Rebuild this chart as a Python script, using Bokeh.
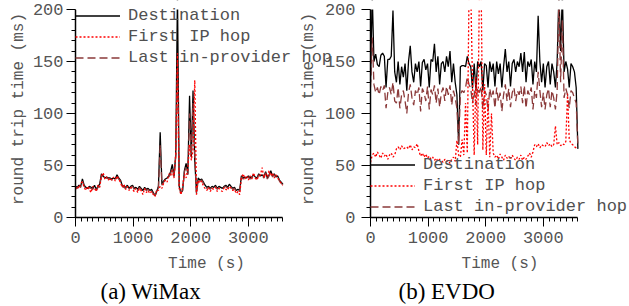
from bokeh.plotting import figure
from bokeh.layouts import row
from bokeh.models import Legend, LegendItem, Title, SingleIntervalTicker, Range1d, BoxAnnotation
from bokeh.embed import file_html
from bokeh.resources import INLINE

# sample times (s)
times = list(range(0, 3601, 30))

# (a) WiMax
wimax_dest = [30, 29, 31, 30, 37, 31, 29, 28, 30, 29, 28, 31, 27, 30, 32,
              42, 40, 38, 39, 38, 38, 37, 38, 37, 41, 38, 36,
              31, 30, 29, 31, 28, 30, 31, 28, 29, 27, 30, 28, 26, 29, 27, 28, 26, 27, 24, 21, 25, 30,
              82, 32, 35, 37, 38, 40, 44, 51, 40, 60, 215, 30, 24, 26, 45, 52, 42, 117, 58, 122, 55, 24,
              38, 36, 37, 34, 31, 29, 30, 28, 30, 29, 31, 28, 30, 29, 28, 30, 31, 29, 32, 30, 28, 29, 26, 27, 26,
              40, 38, 39, 38, 40, 38, 39, 41, 39, 38, 42, 40, 41, 39, 44, 38, 41, 45, 40, 42, 39, 40, 36, 34, 32]
wimax_first = [27, 30, 28, 33, 34, 29, 26, 30, 27, 24, 30, 28, 25, 31, 29,
               40, 43, 37, 39, 36, 38, 36, 39, 35, 40, 37, 34,
               29, 32, 27, 30, 26, 29, 27, 25, 28, 24, 28, 26, 22, 28, 24, 26, 23, 25, 22, 20, 27, 26,
               30, 28, 33, 36, 34, 42, 40, 45, 38, 62, 158, 28, 22, 30, 42, 38, 48, 70, 55, 65, 132, 22,
               36, 33, 35, 30, 28, 26, 29, 25, 28, 27, 29, 25, 28, 26, 25, 29, 27, 26, 30, 28, 26, 27, 23, 25, 22,
               38, 42, 37, 40, 36, 40, 37, 43, 38, 36, 40, 41, 48, 38, 42, 39, 45, 40, 43, 38, 41, 38, 35, 33, 31]
wimax_last = [29, 28, 30, 29, 35, 30, 28, 27, 29, 28, 27, 30, 26, 29, 30,
              40, 39, 37, 38, 37, 37, 36, 37, 36, 39, 37, 35,
              30, 29, 28, 30, 27, 29, 30, 27, 28, 26, 29, 27, 25, 28, 26, 27, 25, 26, 23, 21, 24, 29,
              70, 31, 34, 36, 37, 39, 42, 48, 39, 58, 150, 29, 23, 27, 44, 48, 41, 100, 60, 110, 60, 23,
              37, 35, 36, 33, 30, 28, 29, 27, 29, 28, 30, 27, 29, 28, 27, 29, 30, 28, 31, 29, 27, 28, 25, 26, 25,
              39, 37, 38, 37, 39, 37, 38, 40, 38, 37, 41, 39, 40, 38, 43, 37, 40, 44, 39, 41, 38, 39, 35, 33, 31]

# (b) EVDO
evdo_dest = [130, 215, 150, 157, 147, 145, 156, 158, 155, 125, 152, 152, 155, 199, 140, 130, 150, 128, 145, 135,
             148, 122, 150, 165, 140, 130, 148, 140, 150, 126, 149, 152, 142, 148, 125, 152, 150, 167, 140, 155,
             128, 148, 150, 140, 155, 145, 160, 130, 148, 130, 118, 70, 145, 146, 146, 145, 155, 148, 145, 124,
             148, 122, 150, 145, 150, 122, 148, 146, 125, 150, 140, 148, 126, 150, 138, 148, 125, 145, 162, 140,
             150, 126, 148, 152, 140, 150, 145, 158, 140, 159, 130, 150, 145, 152, 128, 150, 140, 194, 150, 130,
             148, 125, 145, 150, 128, 148, 140, 125, 150, 215, 160, 215, 140, 150, 143, 125, 148, 145, 140, 125, 66]
evdo_first = [53, 60, 62, 58, 63, 60, 57, 62, 59, 61, 56, 60, 62, 58, 60, 66, 68, 65, 69, 66,
              67, 68, 66, 70, 65, 68, 67, 71, 64, 59, 62, 58, 61, 57, 59, 56, 58, 55, 57, 54,
              56, 55, 53, 56, 54, 55, 52, 56, 58, 54, 74, 60, 58, 75, 60, 110, 62, 215, 220, 130,
              60, 135, 70, 220, 225, 65, 128, 60, 115, 58, 100, 62, 58, 60, 56, 61, 58, 55, 60, 57,
              59, 56, 60, 57, 55, 58, 56, 60, 55, 58, 56, 59, 62, 58, 63, 70, 68, 71, 67, 70,
              69, 68, 72, 69, 71, 68, 70, 88, 70, 72, 69, 71, 70, 73, 119, 75, 71, 70, 68, 67, 66]
evdo_last = [125, 173, 128, 120, 125, 118, 126, 122, 127, 105, 120, 125, 118, 130, 112, 110, 125, 105, 118, 122,
             112, 100, 120, 128, 115, 108, 122, 118, 125, 102, 124, 120, 112, 126, 104, 123, 118, 127, 110, 124,
             106, 120, 125, 112, 126, 118, 127, 108, 122, 115, 105, 70, 118, 122, 120, 125, 135, 128, 124, 110,
             122, 108, 125, 120, 126, 104, 122, 118, 102, 124, 115, 122, 105, 125, 112, 120, 102, 118, 128, 112,
             124, 106, 120, 125, 112, 122, 118, 126, 110, 127, 105, 122, 118, 125, 104, 122, 115, 140, 122, 106,
             120, 104, 118, 124, 106, 122, 115, 104, 122, 210, 130, 190, 115, 124, 118, 105, 122, 120, 115, 110, 68]

series_names = ["Destination", "First IP hop", "Last in-provider hop"]
x_label = "Time (s)"
y_label = "round trip time (ms)"
X_MAX = 3600
Y_MAX = 200

MONO = "Liberation Mono"
GRAY = "#555555"

PX_PER_S = 207.4 / 3600.0   # horizontal scale of the reference
PX_PER_MS = 208.0 / 200.0   # vertical scale of the reference
FRAME_H = 217


def panel(width, bl, ylab_standoff, ylab_label_standoff, dest, first, last, leg_y, caption, cap_off):
    frame_w = width - bl
    p = figure(width=width, height=306,
               x_range=Range1d(0, frame_w / PX_PER_S), y_range=Range1d(0, FRAME_H / PX_PER_MS),
               output_backend="svg", toolbar_location=None,
               min_border_left=bl, min_border_right=0, min_border_top=0, min_border_bottom=306 - FRAME_H)
    p.outline_line_color = None
    p.xgrid.visible = False
    p.ygrid.visible = False
    r1 = p.line(times, dest, line_color="black", line_width=1.3)
    r3 = p.line(times, last, line_color="#8b3a3a", line_width=1.3, line_dash="8 4")
    r2 = p.line(times, first, line_color="#ff0000", line_width=1.3, line_dash="2 2")

    # the plot area ends at 200 ms: hide what lies above it
    p.add_layout(BoxAnnotation(bottom=Y_MAX, top=4 * Y_MAX, fill_color="white", fill_alpha=1.0,
                               line_alpha=0))

    p.xaxis.ticker = SingleIntervalTicker(interval=1000, num_minor_ticks=10)
    p.yaxis.ticker = SingleIntervalTicker(interval=50, num_minor_ticks=5)
    p.xaxis.bounds = (0, X_MAX)
    p.yaxis.bounds = (0, Y_MAX)
    for ax in p.axis:
        ax.axis_line_width = 1.5
        ax.axis_line_color = "black"
        ax.major_tick_out = 9
        ax.major_tick_in = 0
        ax.minor_tick_out = 4
        ax.minor_tick_in = 0
        ax.major_tick_line_color = "black"
        ax.minor_tick_line_color = "black"
        ax.major_label_text_font = MONO
        ax.major_label_text_font_size = "17px"
        ax.major_label_text_color = GRAY
        ax.axis_label_text_font = MONO
        ax.axis_label_text_font_size = "16px"
        ax.axis_label_text_font_style = "normal"
        ax.axis_label_text_color = GRAY
    p.xaxis.axis_label = x_label
    p.yaxis.axis_label = y_label
    p.xaxis.major_label_standoff = 5
    p.xaxis.axis_label_standoff = 9
    p.yaxis.major_label_standoff = ylab_standoff
    p.yaxis.axis_label_standoff = ylab_label_standoff

    legend = Legend(items=[LegendItem(label=series_names[0], renderers=[r1]),
                           LegendItem(label=series_names[1], renderers=[r2]),
                           LegendItem(label=series_names[2], renderers=[r3])],
                    location=(0, leg_y), padding=0, margin=0, spacing=0,
                    glyph_width=45, glyph_height=21, label_height=21, label_standoff=8,
                    label_text_font=MONO, label_text_font_size="17px", label_text_color="#505050",
                    background_fill_alpha=0, border_line_alpha=0)
    p.add_layout(legend)

    p.add_layout(Title(text=caption, align="left", offset=cap_off, text_font="Liberation Serif",
                       text_font_size="23px", text_font_style="normal", text_color="black",
                       standoff=2), "below")
    return p


p1 = panel(337, 75, 3, 2, wimax_dest, wimax_first, wimax_last, 149, "(a) WiMax", 25)
p2 = panel(334, 75, 6, 4, evdo_dest, evdo_first, evdo_last, 0, "(b) EVDO", 28)
# the right panel overlaps the left one (the left legend runs under its axis title)
p2.margin = (0, 0, 0, -42)
p2.border_fill_alpha = 0
p2.background_fill_alpha = 0

layout = row(p1, p2)
open("out.html", "w").write(file_html(layout, INLINE))
